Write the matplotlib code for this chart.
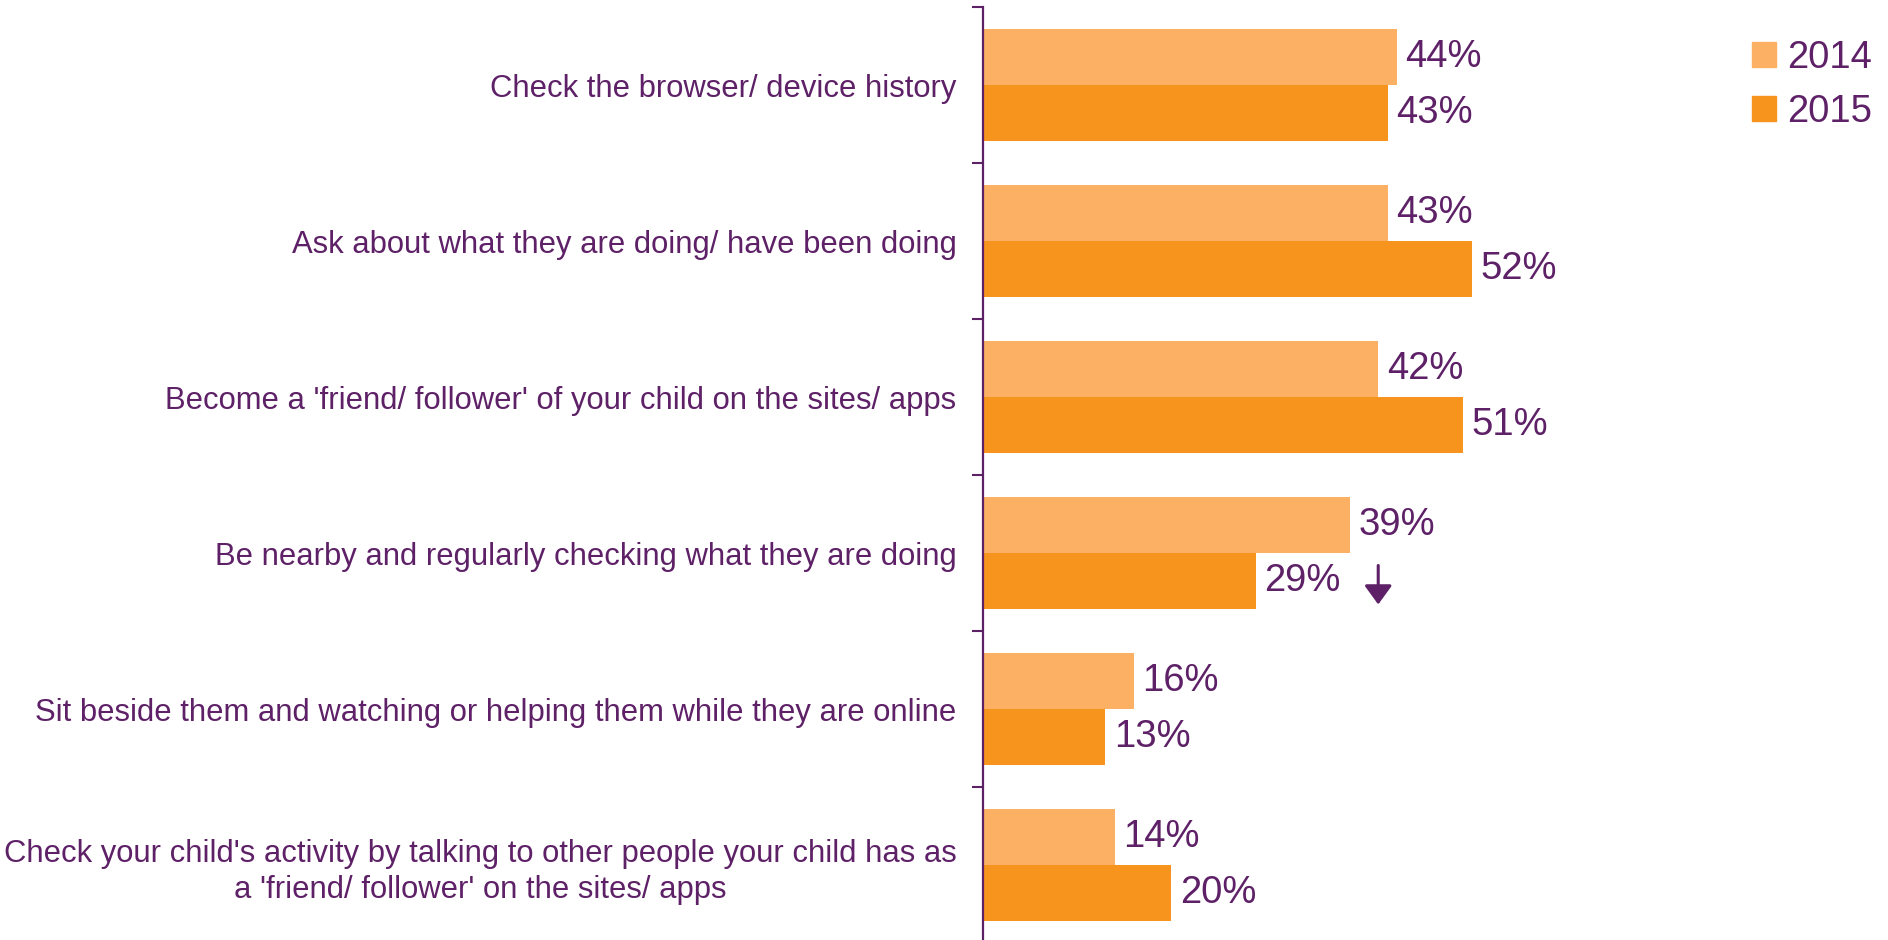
import matplotlib.pyplot as plt
from matplotlib.patches import Patch

# data
categories = [
    "Check the browser/ device history",
    "Ask about what they are doing/ have been doing",
    "Become a 'friend/ follower' of your child on the sites/ apps",
    "Be nearby and regularly checking what they are doing",
    "Sit beside them and watching or helping them while they are online",
    "Check your child's activity by talking to other people your child has as\na 'friend/ follower' on the sites/ apps",
]
vals_2014 = [44, 43, 42, 39, 16, 14]
vals_2015 = [43, 52, 51, 29, 13, 20]
series_names = ["2014", "2015"]

purple = "#5E2167"
col_2014 = "#FBB063"
col_2015 = "#F7941E"

plt.rcParams['font.family'] = ['Liberation Sans', 'DejaVu Sans']

W, H = 1888, 940
fig = plt.figure(figsize=(W / 100, H / 100), dpi=100)
ax_left, ax_top, ax_bot = 983, 7, 943
ax = fig.add_axes([ax_left / W, 1 - ax_bot / H, (W - ax_left) / W, (ax_bot - ax_top) / H])

bh = 0.36
pos = list(range(len(categories)))
ax.barh([p - bh / 2 for p in pos], vals_2014, height=bh, color=col_2014, label=series_names[0])
ax.barh([p + bh / 2 for p in pos], vals_2015, height=bh, color=col_2015, label=series_names[1])

for p, a, b in zip(pos, vals_2014, vals_2015):
    ax.text(a + 0.9, p - bh / 2, f"{a}%", va='center', ha='left', fontsize=27.5, color=purple)
    ax.text(b + 0.9, p + bh / 2, f"{b}%", va='center', ha='left', fontsize=27.5, color=purple)

# significant decrease arrow
arrow_x = 42.0
ax.annotate("", xy=(arrow_x, 3 + bh / 2 + 0.15), xytext=(arrow_x, 3 + bh / 2 - 0.10),
            arrowprops=dict(arrowstyle='-|>,head_length=0.58,head_width=0.42', color=purple,
                            lw=2.2, mutation_scale=20, shrinkA=0, shrinkB=0))

ax.set_xlim(0, (W - ax_left) / 9.41)
ax.set_ylim(len(categories) - 0.5, -0.5)
ax.set_yticks(pos)
ax.set_yticklabels(categories, fontsize=22.3, color=purple, multialignment='center', linespacing=1.3)
ax.set_yticks([p - 0.5 for p in pos] + [len(pos) - 0.5], minor=True)
ax.tick_params(axis='y', which='major', length=0, pad=19)
ax.tick_params(axis='y', which='minor', length=8, width=1.5, color=purple)
ax.set_xticks([])
for s in ['top', 'right', 'bottom']:
    ax.spines[s].set_visible(False)
ax.spines['left'].set_color(purple)
ax.spines['left'].set_linewidth(1.6)

handles = [Patch(color=col_2014, label=series_names[0]), Patch(color=col_2015, label=series_names[1])]
leg = fig.legend(handles=handles, loc='upper left', bbox_to_anchor=(1752 / W, 1 - 40 / H),
                 frameon=False, fontsize=27.5, handlelength=0.63, handleheight=0.63,
                 handletextpad=0.3, labelspacing=0.47, borderpad=0, borderaxespad=0)
for t in leg.get_texts():
    t.set_color(purple)

fig.savefig("out.png", dpi=100)
